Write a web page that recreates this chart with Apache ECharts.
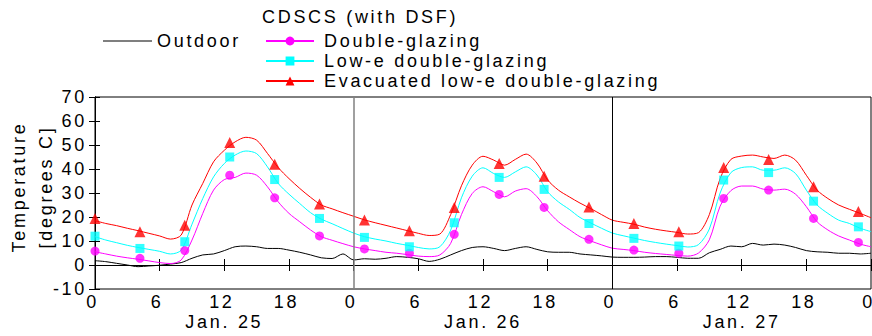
<!DOCTYPE html>
<html>
<head>
<meta charset="utf-8">
<script src="https://cdn.jsdelivr.net/npm/echarts@6/dist/echarts.min.js"></script>
<style>
  html, body { margin: 0; padding: 0; background: #fff; }
  #chart { width: 872px; height: 336px; }
  /* the original lettering is spaced out */
  #chart text { letter-spacing: 2.7px; }
</style>
</head>
<body>
<div id="chart"></div>
<script>
// hours from the start of Jan. 25
const hours = [0, 1, 2, 3, 4, 5, 6, 7, 8, 9, 10, 11, 12, 13, 14, 15, 16, 17, 18, 19, 20, 21, 22, 23, 24,
  25, 26, 27, 28, 29, 30, 31, 32, 33, 34, 35, 36, 37, 38, 39, 40, 41, 42, 43, 44, 45, 46, 47, 48,
  49, 50, 51, 52, 53, 54, 55, 56, 57, 58, 59, 60, 61, 62, 63, 64, 65, 66, 67, 68, 69, 70, 71, 72];

const outdoor = [1.8, 1.4, 0.7, 0, -0.7, -0.4, -0.1, 0.4, 1, 2.8, 4.2, 4.6, 6, 7.6, 7.9, 7.6, 6.9, 6.9, 6.2, 5.3, 4.2, 3.0, 2.7, 4.6, 2.1,
  2.6, 2.4, 2.8, 3.5, 3.2, 2.6, 1.5, 2.4, 4.2, 6, 7.3, 7.6, 6.9, 6, 6.9, 7.6, 6.5, 5.5, 5.3, 5.3, 4.6, 4.2, 3.8, 3.3,
  3.2, 3.2, 3.3, 3.5, 3.5, 3.2, 2.8, 2.8, 5.1, 6.5, 7.9, 7.6, 9, 8.3, 8.7, 8.3, 7.3, 6, 5.5, 5.3, 4.9, 4.9, 4.6, 4.9];

const doubleGlazing = [5.5, 4.6, 3.7, 3, 2.4, 1.7, 1, 0.6, 2.1, 10.4, 21.5, 31.2, 35.6, 36.5, 38.3, 37.4, 32.6, 26.3, 21.5, 18, 14.6, 11.8, 10.3, 8.9, 7.6,
  6.7, 6, 5.3, 4.9, 4.3, 3.7, 3.5, 4.2, 9, 21, 29.8, 32.6, 30.5, 28.4, 30.8, 31.8, 28.5, 22.6, 18, 14.8, 11.8, 10, 8.4, 7,
  6.5, 6, 5.3, 4.8, 4.4, 4, 3.7, 5, 10.5, 24.5, 31, 32.9, 32.9, 31.6, 31.2, 31.6, 29.5, 24.3, 18, 14.6, 12.1, 10.4, 8.7, 7.6];

const lowE = [11.8, 10.4, 9.3, 8.2, 7.3, 6.5, 5.7, 4.6, 6.2, 17, 27.7, 36.7, 42.3, 45.8, 47.5, 46.4, 40.9, 34, 29.5, 25.6, 21.8, 19.1, 17.2, 15.2, 13.3,
  11.8, 10.8, 10, 9, 8.2, 7.3, 6.7, 7.6, 14.5, 28, 37, 40.5, 38.1, 36.5, 38.8, 40.9, 37.5, 30.5, 26.3, 23.2, 19.8, 17.5, 15.3, 13.3,
  12.2, 11.2, 10.2, 9.4, 8.7, 8.1, 7.5, 8.5, 15, 30, 38.5, 40.6, 40.9, 39.5, 39.5, 40.5, 38.1, 31.2, 25, 21.5, 18.7, 17.3, 15.3, 13.9];

const evacuated = [18.5, 17.3, 16.4, 15.3, 14.3, 13.2, 12.1, 10.8, 12.5, 25, 34, 43, 47.8, 51.3, 53.2, 52, 46.5, 40.6, 36, 31.9, 28.2, 25, 23.4, 21.8, 20.3,
  18.8, 17.6, 16.5, 15.4, 14.3, 13.2, 12.3, 12.9, 21, 33, 41.6, 45.3, 43.7, 41.6, 44, 46.2, 42.5, 35.4, 31.2, 28.4, 25.8, 23.5, 21, 18.7,
  17.8, 17, 15.8, 14.9, 14.2, 13.6, 12.9, 13.5, 21, 36, 44, 45.4, 45.8, 45, 44.4, 45.8, 43.7, 37.4, 31.2, 27.7, 25, 23.2, 21.5, 19.7];

// markers sit on every 25th ten-minute reading
const markHours = [0, 4.17, 8.33, 12.5, 16.67, 20.83, 25, 29.17, 33.33, 37.5, 41.67, 45.83, 50, 54.17, 58.33, 62.5, 66.67, 70.83];
const dgMarks = [5.8, 2.8, 6, 37.4, 28, 12.1, 6.7, 4.9, 12.8, 29.4, 24, 10.7, 6.2, 4.9, 27.7, 31.2, 19.4, 9.4];
const loweMarks = [12, 6.9, 9.7, 45, 35.6, 19.4, 11.5, 7.6, 17.6, 36.5, 31.5, 17.3, 11.1, 7.9, 35.4, 38.5, 26.6, 15.9];
const evacMarks = [19.4, 13.9, 16.6, 51, 42, 25.4, 18.7, 14.3, 24, 42.3, 37, 24.2, 17.3, 13.9, 40.6, 44, 32.6, 22.3];

const dayLabels = ['Jan. 25', 'Jan. 26', 'Jan. 27'];
const dayLabelAt = [12, 36, 60];
const dayLines = [24, 48];

const FONT = 'Liberation Sans';

const pairs = (xs, ys) => xs.map((x, i) => [x, ys[i]]);

const chart = echarts.init(document.getElementById('chart'), null, { renderer: 'svg' });

const lineSeries = (name, color, symbol, vals) => ({
  name: name,
  type: 'line',
  data: pairs(hours, vals),
  showSymbol: false,
  symbol: symbol,
  smooth: 0.3,
  lineStyle: { color: color, width: 1 },
  itemStyle: { color: color },
  emphasis: { disabled: true },
  silent: true,
  z: 2
});

const markSeries = (name, color, symbol, size, vals) => ({
  name: name,
  type: 'scatter',
  data: pairs(markHours, vals),
  symbol: symbol,
  symbolSize: size,
  itemStyle: { color: color },
  silent: true,
  z: 3
});

const option = {
  animation: false,
  textStyle: { fontFamily: FONT },
  title: {
    text: 'CDSCS (with DSF)',
    left: 262,
    top: 8,
    padding: 0,
    textStyle: { fontFamily: FONT, fontSize: 18, fontWeight: 'normal', color: '#000' }
  },
  legend: [
    {
      data: [{ name: 'Outdoor', icon: 'rect' }],
      left: 103,
      top: 31,
      padding: 0,
      itemWidth: 49,
      itemHeight: 1,
      selectedMode: false,
      textStyle: { fontFamily: FONT, fontSize: 18, color: '#000', lineHeight: 20 }
    },
    {
      data: ['Double-glazing', 'Low-e double-glazing', 'Evacuated low-e double-glazing'],
      orient: 'vertical',
      left: 265,
      top: 31,
      padding: 0,
      itemGap: 0,
      itemWidth: 48,
      itemHeight: 11,
      selectedMode: false,
      textStyle: { fontFamily: FONT, fontSize: 18, color: '#000', lineHeight: 20, padding: [0, 0, 0, 5] }
    }
  ],
  grid: {
    left: 95, right: 1, top: 97, bottom: 47,
    outerBoundsMode: 'none',
    show: true, borderColor: '#000', borderWidth: 1, backgroundColor: 'transparent'
  },
  xAxis: [
    {
      type: 'value', min: 0, max: 72, interval: 6, position: 'bottom',
      axisLine: { lineStyle: { color: '#000', width: 1 } },
      axisTick: { inside: true, length: 6, lineStyle: { color: '#000' } },
      axisLabel: {
        color: '#000', fontFamily: FONT, fontSize: 18, margin: 4, padding: [0, 5, 0, 0],
        formatter: v => String(v % 24)
      },
      splitLine: { show: false }
    },
    {
      type: 'value', min: 0, max: 72, interval: 6, position: 'top',
      axisLine: { show: true, lineStyle: { color: '#000', width: 1 } },
      axisTick: { inside: true, length: 6, lineStyle: { color: '#000' } },
      axisLabel: { show: false },
      splitLine: { show: false }
    },
    {
      type: 'value', min: 0, max: 72, position: 'bottom', offset: 20,
      axisLine: { show: false },
      axisTick: { show: false },
      axisLabel: {
        color: '#000', fontFamily: FONT, fontSize: 18, margin: 4,
        customValues: dayLabelAt,
        formatter: v => dayLabels[Math.floor(v / 24)]
      },
      splitLine: { show: false }
    }
  ],
  yAxis: [
    {
      type: 'value', min: -10, max: 70, interval: 10, position: 'left',
      name: 'Temperature\n[degrees C]',
      nameLocation: 'middle',
      nameRotate: 90,
      nameGap: 36,
      nameMoveOverlap: false,
      nameTextStyle: { fontFamily: FONT, fontSize: 18, color: '#000', lineHeight: 27, padding: [0, 0, 0, 12] },
      axisLine: { show: true, lineStyle: { color: '#000', width: 1 } },
      axisTick: { inside: true, length: 5, lineStyle: { color: '#000' } },
      axisLabel: { color: '#000', fontFamily: FONT, fontSize: 18, margin: 8 },
      splitLine: { show: false }
    },
    {
      type: 'value', min: -10, max: 70, interval: 10, position: 'right',
      axisLine: { show: true, lineStyle: { color: '#000', width: 1 } },
      axisTick: { show: true, inside: true, length: 6, lineStyle: { color: '#000' } },
      axisLabel: { show: false },
      splitLine: { show: false }
    }
  ],
  series: [
    Object.assign(lineSeries('Outdoor', '#000000', 'none', outdoor), {
      markLine: {
        silent: true,
        symbol: 'none',
        label: { show: false },
        data: [
          { xAxis: dayLines[0], lineStyle: { color: '#808080', width: 1.5, type: 'solid' } },
          { xAxis: dayLines[1], lineStyle: { color: '#000000', width: 1, type: 'solid' } }
        ]
      }
    }),
    lineSeries('Double-glazing', '#ff00ff', 'circle', doubleGlazing),
    lineSeries('Low-e double-glazing', '#00ffff', 'rect', lowE),
    lineSeries('Evacuated low-e double-glazing', '#ff0000', 'triangle', evacuated),
    markSeries('Double-glazing', '#ff00ff', 'circle', 9, dgMarks),
    markSeries('Low-e double-glazing', '#00ffff', 'rect', 9, loweMarks),
    markSeries('Evacuated low-e double-glazing', '#ff0000', 'triangle', 11, evacMarks)
  ]
};

chart.setOption(option);
</script>
</body>
</html>
